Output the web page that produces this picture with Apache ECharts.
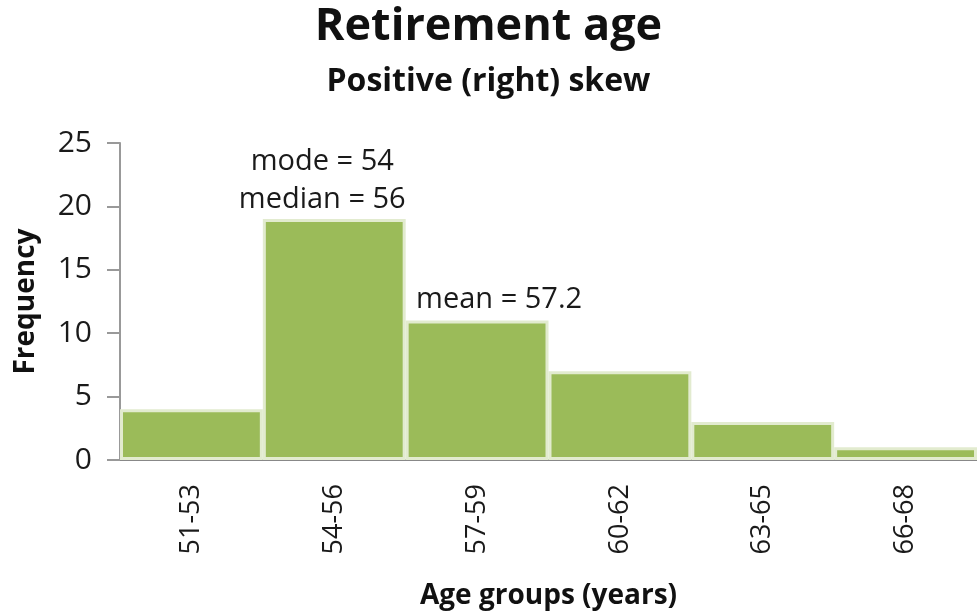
<!DOCTYPE html>
<html><head><meta charset="utf-8">
<script src="https://cdn.jsdelivr.net/npm/echarts@6/dist/echarts.min.js"></script>
<style>html,body{margin:0;padding:0;background:#fff}#c{width:977px;height:615px}</style>
</head><body><div id="c"></div>
<script>
const categories = ['51-53','54-56','57-59','60-62','63-65','66-68'];
const frequencies = [4, 19, 11, 7, 3, 1];
const annotations = ['', 'mode = 54\nmedian = 56', 'mean = 57.2', '', '', ''];
const yTicks = [0, 5, 10, 15, 20, 25];

const FONT = '"Open Sans", "Noto Sans", sans-serif';
const chart = echarts.init(document.getElementById('c'));
chart.setOption({
  animation: false,
  title: [
    { text: 'Retirement age', left: 'center', top: 0,
      textStyle: { fontFamily: FONT, fontSize: 45, fontWeight: 'bold', color: '#111' } },
    { text: 'Positive (right) skew', left: 'center', top: 61,
      textStyle: { fontFamily: FONT, fontSize: 32, fontWeight: 'bold', color: '#111' } }
  ],
  grid: { left: 120, right: 0, top: 143, bottom: 154 },
  xAxis: {
    type: 'category', data: categories,
    name: 'Age groups (years)', nameLocation: 'middle', nameGap: 122,
    nameTextStyle: { fontFamily: FONT, fontSize: 28, fontWeight: 'bold', color: '#111' },
    axisLine: { lineStyle: { color: '#888', width: 2 } },
    axisTick: { show: false },
    axisLabel: { rotate: 90, margin: 24, fontFamily: FONT, fontSize: 27, color: '#1a1a1a' }
  },
  yAxis: {
    type: 'value', min: 0, max: 25, interval: 5,
    name: 'Frequency', nameLocation: 'middle', nameGap: 80, nameRotate: 90,
    nameTextStyle: { fontFamily: FONT, fontSize: 28, fontWeight: 'bold', color: '#111' },
    splitLine: { show: false },
    axisLine: { show: true, lineStyle: { color: '#999', width: 2 } },
    axisTick: { show: true, length: 13, lineStyle: { color: '#999', width: 2 } },
    axisLabel: { margin: 28, fontFamily: FONT, fontSize: 30, color: '#1a1a1a',
      formatter: v => yTicks.includes(v) ? String(v) : '' }
  },
  series: [{
    type: 'bar', data: frequencies, barWidth: '100%', barCategoryGap: 0,
    itemStyle: { color: '#9BBB59', borderColor: '#E2EBCF', borderWidth: 3 },
    label: {
      show: true, position: 'top', distance: 0,
      formatter: p => annotations[p.dataIndex],
      fontFamily: FONT, fontSize: 29, lineHeight: 38, color: '#1a1a1a'
    },
    labelLayout: p => p.dataIndex === 1 ? { dx: -12 } : (p.dataIndex === 2 ? { dx: 22, dy: -2 } : {})
  }]
});
</script></body></html>
